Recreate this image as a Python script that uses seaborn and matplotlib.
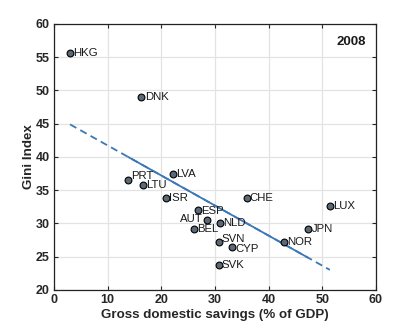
import matplotlib

matplotlib.use("Agg")
import matplotlib.pyplot as plt
import numpy as np
import pandas as pd
import seaborn as sns

countries = ["HKG", "DNK", "LVA", "PRT", "LTU", "ISR", "CHE", "LUX", "ESP", "AUT",
             "NLD", "BEL", "JPN", "SVN", "NOR", "CYP", "SVK"]
savings = [2.9, 16.3, 22.1, 13.8, 16.5, 20.9, 35.9, 51.4, 26.8, 28.6,
           30.9, 26.0, 47.4, 30.7, 42.9, 33.2, 30.7]
gini = [55.7, 49.0, 37.4, 36.6, 35.8, 33.8, 33.9, 32.6, 32.0, 30.5,
        30.0, 29.1, 29.1, 27.2, 27.2, 26.4, 23.8]

# fitted trend
fit_slope = -0.452
fit_intercept = 46.25
fit_dash_range = [3.0, 51.4]
fit_solid_range = [13.8, 47.3]

YEAR = "2008"

# label nudges (points) where the reference shifts a label off-centre
label_dy = {"PRT": 2.5, "SVN": 2.2, "CYP": -0.8, "ESP": -0.8}

df = pd.DataFrame({"country": countries, "savings": savings, "gini": gini})

sns.set_theme(style="ticks")
plt.rcParams["font.family"] = ["Liberation Sans", "DejaVu Sans"]

fig = plt.figure(figsize=(4.15, 3.28), dpi=100)
ax = fig.add_axes([0.130, 0.116, 0.776, 0.811])

line_color = "#3b78b5"
xd = np.array(fit_dash_range)
ax.plot(xd, fit_intercept + fit_slope * xd, color=line_color, lw=1.3,
        dashes=(4, 2.5), zorder=2)
xs = np.array(fit_solid_range)
ax.plot(xs, fit_intercept + fit_slope * xs, color=line_color, lw=1.3, zorder=3)

sns.scatterplot(data=df, x="savings", y="gini", ax=ax, s=24, color="#5b6875",
                edgecolor="black", linewidth=0.8, zorder=4)

for c, x, y in zip(countries, savings, gini):
    if c == "AUT":
        ax.annotate(c, (x, y), xytext=(-3.5, 0.5), textcoords="offset points",
                    ha="right", va="center", fontsize=8.2, color="#1a1a1a")
    else:
        ax.annotate(c, (x, y), xytext=(2.3, label_dy.get(c, 0)),
                    textcoords="offset points", ha="left", va="center",
                    fontsize=8.2, color="#1a1a1a")

ax.text(0.97, 0.955, YEAR, transform=ax.transAxes, ha="right", va="top",
        fontsize=9.5, fontweight="bold", color="#1a1a1a")

ax.set_xlim(0, 60)
ax.set_ylim(20, 60)
ax.set_xticks(range(0, 61, 10))
ax.set_yticks(range(20, 61, 5))
ax.grid(True, color="#e3e3e3", lw=0.9, zorder=0)
ax.set_axisbelow(True)
for sp in ax.spines.values():
    sp.set_color("#222222")
    sp.set_linewidth(0.9)
ax.tick_params(direction="in", length=3, width=0.8, top=True, right=True,
               labelsize=9, pad=3, labelcolor="#262626")
for lbl in ax.get_xticklabels() + ax.get_yticklabels():
    lbl.set_fontweight("bold")

ax.set_xlabel("Gross domestic savings (% of GDP)", fontsize=9.6,
              fontweight="bold", labelpad=2, color="#262626")
ax.set_ylabel("Gini Index", fontsize=9.6, fontweight="bold", labelpad=0.5,
              color="#262626")

fig.savefig("out.png", dpi=100)
